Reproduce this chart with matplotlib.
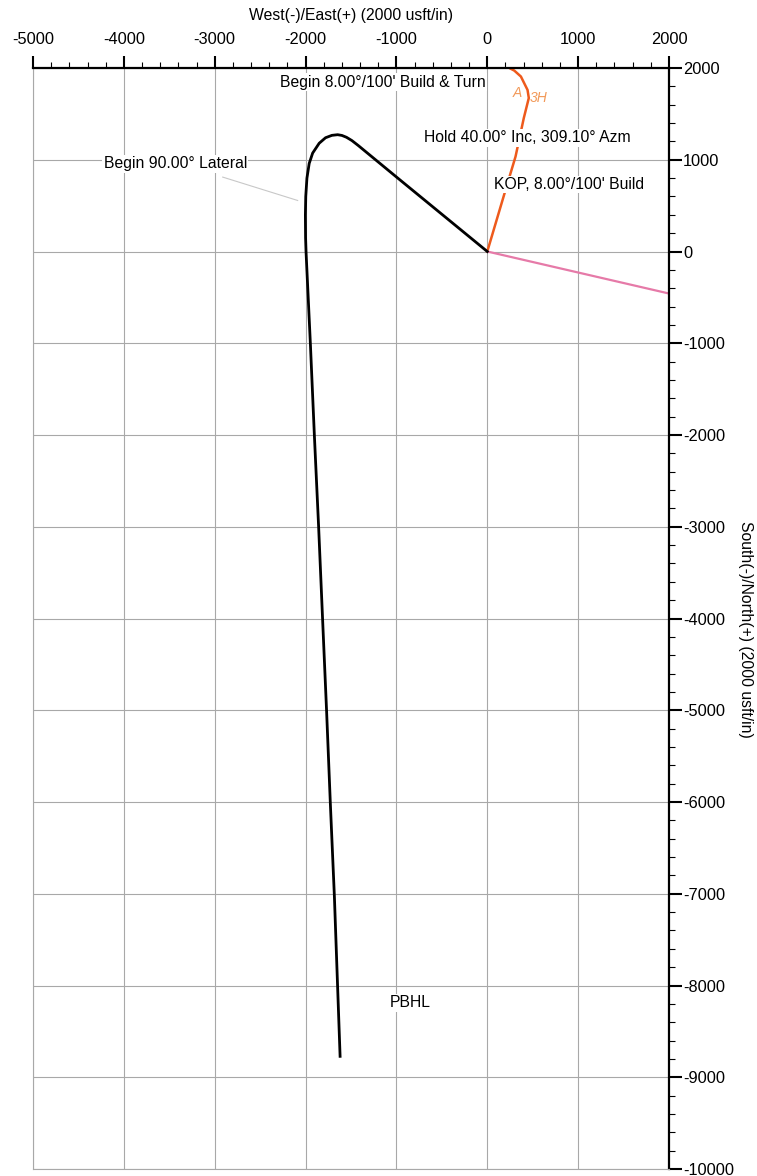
import matplotlib
matplotlib.use('Agg')
import matplotlib.pyplot as plt
from matplotlib.ticker import MultipleLocator

plt.rcParams['font.family'] = ['Liberation Sans', 'DejaVu Sans']
plt.rcParams['axes.unicode_minus'] = False

# well path in plan view (usft)
path_ew = [0, -500, -1000, -1420, -1490, -1550, -1600, -1647, -1710, -1780, -1850, -1922,
           -1960, -1985, -1998, -2002, -2000, -1995, -1947, -1903, -1856, -1812,
           -1768, -1727, -1683, -1647, -1620]
path_ns = [0, 406, 812, 1155, 1209, 1245, 1265, 1273, 1266, 1240, 1180, 1073,
           960, 800, 600, 400, 150, 0, -1007, -2007, -3008, -4023,
           -5025, -6024, -7025, -8025, -8772]

# hand drawn orange line
orange_ew = [0, 201, 311, 402, 457, 443, 370, 297, 256]
orange_ns = [0, 671, 1035, 1455, 1673, 1761, 1907, 1972, 1993]

# pink line
pink_ew = [0, 2000]
pink_ns = [0, -458]

# labels: text, x, y, alignment
labels = [
    ("Begin 8.00°/100' Build & Turn", -20, 1847, 'right'),
    ("Hold 40.00° Inc, 309.10° Azm", -693, 1240, 'left'),
    ("KOP, 8.00°/100' Build", 77, 731, 'left'),
    ("Begin 90.00° Lateral", -4224, 957, 'left'),
    ("PBHL", -1078, -8189, 'left'),
]

x_ticks = [-5000, -4000, -3000, -2000, -1000, 0, 1000, 2000]
y_ticks = [2000, 1000, 0, -1000, -2000, -3000, -4000, -5000, -6000,
           -7000, -8000, -9000, -10000]

fig = plt.figure(figsize=(7.57, 11.76), dpi=100)
ax = fig.add_axes([33/757, 7/1176, 636/757, 1101/1176])

ax.plot(path_ew, path_ns, color='black', lw=2, zorder=2.5)
ax.plot(orange_ew, orange_ns, color='#ee5a1c', lw=1.8, zorder=2)
ax.plot(pink_ew, pink_ns, color='#e67aa8', lw=1.6, zorder=2)

# leader line for the lateral label
ax.plot([-2912, -2087], [811, 556], color='#c8c8c8', lw=0.8, zorder=2)

for txt, x, y, ha in labels:
    ax.text(x, y, txt, ha=ha, va='center', fontsize=11.3, zorder=3,
            bbox=dict(facecolor='white', edgecolor='none', pad=1))

# handwriting
ax.text(330, 1724, 'A', color='#f29a5a', fontsize=10, style='italic', ha='center', va='center')
ax.text(560, 1670, '3H', color='#f29a5a', fontsize=10, style='italic', ha='center', va='center')

ax.set_xlim(-5000, 2000)
ax.set_ylim(-10000, 2000)
ax.set_xticks(x_ticks)
ax.set_yticks(y_ticks)
ax.xaxis.set_minor_locator(MultipleLocator(200))
ax.yaxis.set_minor_locator(MultipleLocator(200))
ax.xaxis.tick_top()
ax.xaxis.set_label_position('top')
ax.yaxis.tick_right()
ax.yaxis.set_label_position('right')

ax.tick_params(which='major', length=9, width=1.5, direction='out', labelsize=11.8)
ax.tick_params(which='minor', length=4, width=0.8, direction='out')
ax.tick_params(axis='x', which='major', pad=6)
ax.tick_params(axis='y', which='major', pad=1)

ax.grid(True, which='major', color='#a8a8a8', lw=0.8)
for s in ['top', 'right']:
    ax.spines[s].set_linewidth(1.6)
    ax.spines[s].set_color('black')
for s in ['left', 'bottom']:
    ax.spines[s].set_linewidth(0.8)
    ax.spines[s].set_color('#a8a8a8')

ax.set_xlabel('West(-)/East(+) (2000 usft/in)', fontsize=11.3, labelpad=9)
ax.set_ylabel('South(-)/North(+) (2000 usft/in)', fontsize=11.3, rotation=270, va='center')
ax.yaxis.set_label_coords(1.121, 0.49)

fig.savefig('out.png', dpi=100)
